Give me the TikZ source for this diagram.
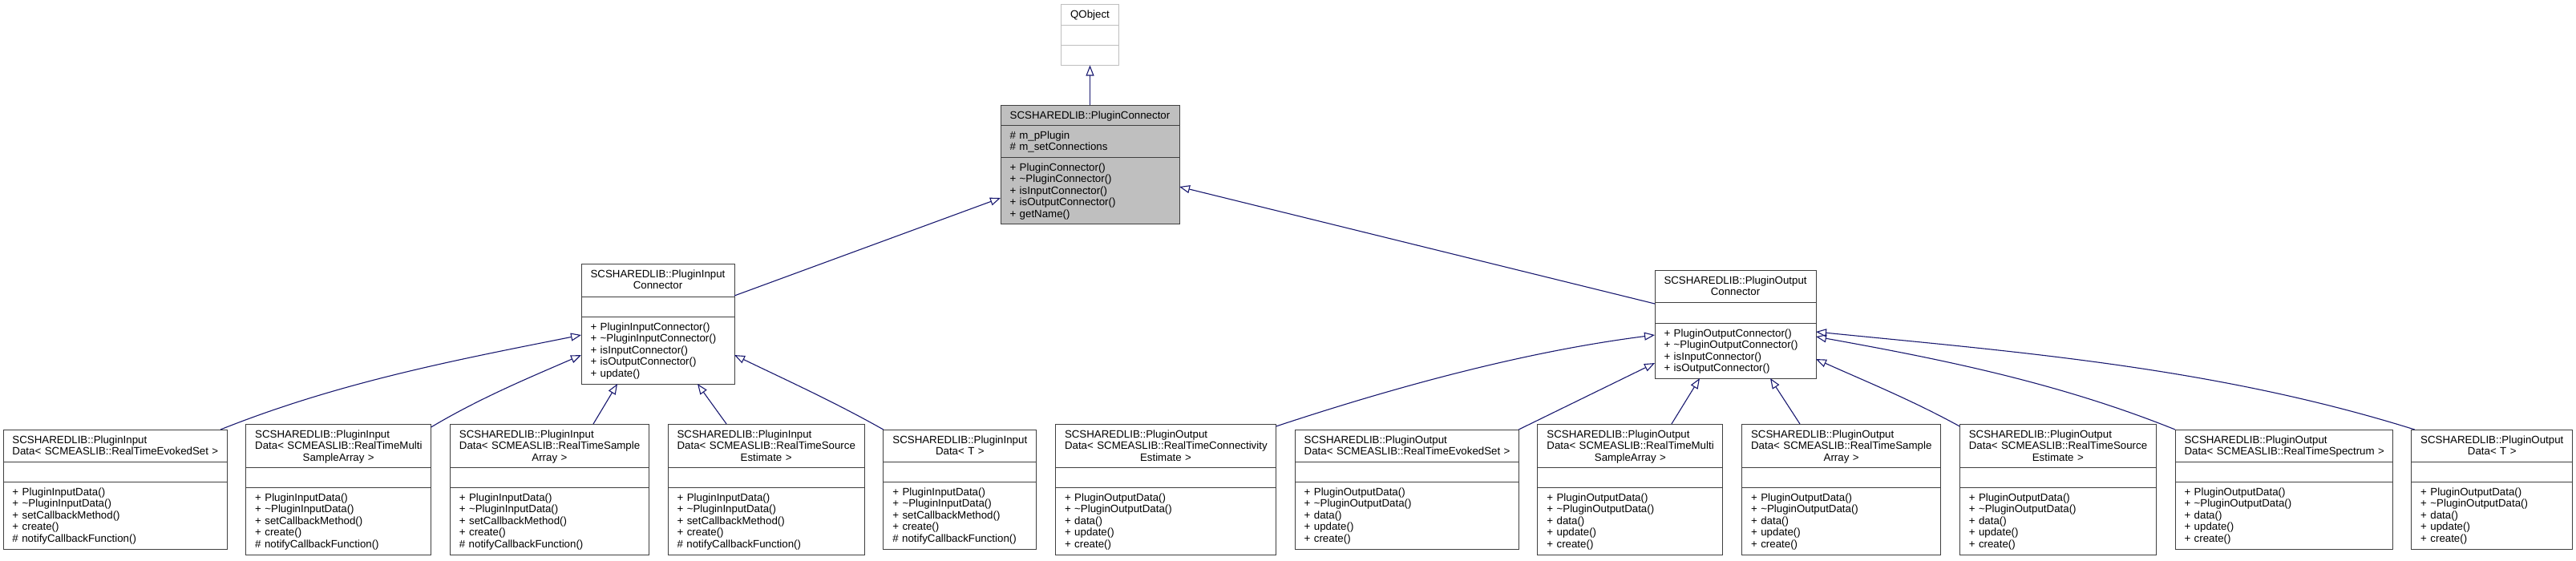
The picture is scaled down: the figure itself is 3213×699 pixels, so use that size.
\documentclass[tikz,border=0pt]{standalone}
\usepackage{fontspec}
\setmainfont{Liberation Sans}
\usetikzlibrary{arrows.meta,calc,fit}
\definecolor{edgeblue}{HTML}{191970}
\definecolor{boxgray}{HTML}{BFBFBF}
\definecolor{framecol}{HTML}{404040}
\newcommand\boxfont{\fontsize{13.3}{14.6}\selectfont\hyphenpenalty=10000 \exhyphenpenalty=10000\relax}
\tikzset{
  classframe/.style={draw=framecol, line width=1pt, inner sep=0pt, outer sep=0pt},
  divider/.style={draw=framecol, line width=1pt},
  qframe/.style={draw=boxgray},
  txt/.style={inner sep=0pt, outer sep=0pt, anchor=north west, font=\boxfont, text=black},
  inh/.style={draw=edgeblue, line width=1.1pt, -{Triangle[open, length=13pt, width=10pt, line width=1.1pt]}},
}
% #1 name, #2 left, #3 right, #4 top, #5 divider1, #6 divider2, #7 bottom, #8 extra style
\newcommand\classbox[8]{%
  \coordinate (#1-nw) at (#2,#4);
  \coordinate (#1-se) at (#3,#7);
  \node[classframe,#8,fit=(#1-nw)(#1-se)] (#1) {};
  \draw[divider,#8] (#2,#5) -- (#3,#5) (#2,#6) -- (#3,#6);
}
% #1 name, #2 left, #3 right, #4 row top, #5 align, #6 content
\newcommand\comp[6]{%
  \pgfmathsetmacro\cw{#3-#2-23}%
  \node[txt, text width=\cw pt, align=#5] (#1) at ({#2+11.5},{#4+6.8}) {\strut #6};
}
\newcommand\ctrline[1]{\makebox[\linewidth][c]{#1}}
\newcommand\inmeth{+ PluginInputData()\\+ \textasciitilde PluginInputData()\\+ setCallbackMethod()\\+ create()\\\#~notifyCallbackFunction()}
\newcommand\outmeth{+ PluginOutputData()\\+ \textasciitilde PluginOutputData()\\+ data()\\+ update()\\+ create()}
\begin{document}
\begin{tikzpicture}[x=1pt,y=-1pt]
\useasboundingbox (0,0) rectangle (3213,699);
\path[fill=white] (0,0) rectangle (3213,699);

% QObject
\classbox{QO}{1323.6}{1395.4}{5.5}{31.5}{56.5}{81.5}{qframe}
\comp{QO-t}{1323.6}{1395.4}{5.5}{center}{QObject}

% PluginConnector
\classbox{PC}{1248}{1471}{131}{156}{196}{279}{fill=boxgray}
\comp{PC-t}{1248}{1471}{131}{center}{SCSHAREDLIB::PluginConnector}
\comp{PC-a}{1248}{1471}{156}{left}{\#~m\_pPlugin\\\#~m\_setConnections}
\comp{PC-m}{1248}{1471}{196}{left}{+ PluginConnector()\\+ \textasciitilde PluginConnector()\\+ isInputConnector()\\+ isOutputConnector()\\+ getName()}

% PluginInputConnector
\classbox{PIC}{725}{916}{329}{370}{395}{479}{}
\comp{PIC-t}{725}{916}{329}{center}{SCSHAREDLIB::PluginInput\\Connector}
\comp{PIC-m}{725}{916}{395}{left}{+ PluginInputConnector()\\+ \textasciitilde PluginInputConnector()\\+ isInputConnector()\\+ isOutputConnector()\\+ update()}

% PluginOutputConnector
\classbox{POC}{2064}{2265}{337}{377}{403}{472}{}
\comp{POC-t}{2064}{2265}{337}{center}{SCSHAREDLIB::PluginOutput\\Connector}
\comp{POC-m}{2064}{2265}{403}{left}{+ PluginOutputConnector()\\+ \textasciitilde PluginOutputConnector()\\+ isInputConnector()\\+ isOutputConnector()}

% Input data classes
\classbox{B1}{4}{283}{536}{576}{601}{685}{}
\comp{B1-t}{4}{283}{536}{left}{SCSHAREDLIB::PluginInput\\Data<~SCMEASLIB::RealTimeEvokedSet~>}
\comp{B1-m}{4}{283}{601}{left}{\inmeth}

\classbox{B2}{306.7}{537.7}{529}{583}{608}{692}{}
\comp{B2-t}{306.7}{537.7}{529}{left}{SCSHAREDLIB::PluginInput\\Data<~SCMEASLIB::RealTimeMulti\\\ctrline{SampleArray~>}}
\comp{B2-m}{306.7}{537.7}{608}{left}{\inmeth}

\classbox{B3}{561.4}{809.4}{529}{583}{608}{692}{}
\comp{B3-t}{561.4}{809.4}{529}{left}{SCSHAREDLIB::PluginInput\\Data<~SCMEASLIB::RealTimeSample\\\ctrline{Array~>}}
\comp{B3-m}{561.4}{809.4}{608}{left}{\inmeth}

\classbox{B4}{833.1}{1078.1}{529}{583}{608}{692}{}
\comp{B4-t}{833.1}{1078.1}{529}{left}{SCSHAREDLIB::PluginInput\\Data<~SCMEASLIB::RealTimeSource\\\ctrline{Estimate~>}}
\comp{B4-m}{833.1}{1078.1}{608}{left}{\inmeth}

\classbox{B5}{1101.8}{1292.8}{536}{576}{601}{685}{}
\comp{B5-t}{1101.8}{1292.8}{536}{center}{SCSHAREDLIB::PluginInput\\Data<~T~>}
\comp{B5-m}{1101.8}{1292.8}{601}{left}{\inmeth}

% Output data classes
\classbox{O1}{1316.5}{1591.5}{529}{583}{608}{692}{}
\comp{O1-t}{1316.5}{1591.5}{529}{left}{SCSHAREDLIB::PluginOutput\\Data<~SCMEASLIB::RealTimeConnectivity\\\ctrline{Estimate~>}}
\comp{O1-m}{1316.5}{1591.5}{608}{left}{\outmeth}

\classbox{O2}{1615.2}{1894.2}{536}{576}{601}{685}{}
\comp{O2-t}{1615.2}{1894.2}{536}{left}{SCSHAREDLIB::PluginOutput\\Data<~SCMEASLIB::RealTimeEvokedSet~>}
\comp{O2-m}{1615.2}{1894.2}{601}{left}{\outmeth}

\classbox{O3}{1917.9}{2148.9}{529}{583}{608}{692}{}
\comp{O3-t}{1917.9}{2148.9}{529}{left}{SCSHAREDLIB::PluginOutput\\Data<~SCMEASLIB::RealTimeMulti\\\ctrline{SampleArray~>}}
\comp{O3-m}{1917.9}{2148.9}{608}{left}{\outmeth}

\classbox{O4}{2172.6}{2420.6}{529}{583}{608}{692}{}
\comp{O4-t}{2172.6}{2420.6}{529}{left}{SCSHAREDLIB::PluginOutput\\Data<~SCMEASLIB::RealTimeSample\\\ctrline{Array~>}}
\comp{O4-m}{2172.6}{2420.6}{608}{left}{\outmeth}

\classbox{O5}{2444.3}{2689.3}{529}{583}{608}{692}{}
\comp{O5-t}{2444.3}{2689.3}{529}{left}{SCSHAREDLIB::PluginOutput\\Data<~SCMEASLIB::RealTimeSource\\\ctrline{Estimate~>}}
\comp{O5-m}{2444.3}{2689.3}{608}{left}{\outmeth}

\classbox{O6}{2713}{2984}{536}{576}{601}{685}{}
\comp{O6-t}{2713}{2984}{536}{left}{SCSHAREDLIB::PluginOutput\\Data<~SCMEASLIB::RealTimeSpectrum~>}
\comp{O6-m}{2713}{2984}{601}{left}{\outmeth}

\classbox{O7}{3007.7}{3208.7}{536}{576}{601}{685}{}
\comp{O7-t}{3007.7}{3208.7}{536}{center}{SCSHAREDLIB::PluginOutput\\Data<~T~>}
\comp{O7-m}{3007.7}{3208.7}{601}{left}{\outmeth}

% Inheritance connectors
\draw[inh] (PC.north) -- (QO.south);
\draw[inh] ($(PIC.north east)+(0,40)$) -- ($(PC.north west)+(0,116)$);
\draw[inh] ($(POC.north west)+(0,42)$) -- ($(PC.north east)+(0,102)$);

\draw[inh] ($(B1.north east)+(-8,0)$) .. controls +(150,-60) and +(-150,30) .. ($(PIC.north west)+(0,89)$);
\draw[inh] ($(B2.north east)+(0,4)$) .. controls +(62,-37) and +(-62,27) .. ($(PIC.north west)+(0,114)$);
\draw[inh] ($(B3.north west)+(178.6,0)$) -- ($(PIC.south west)+(45,0)$);
\draw[inh] ($(B4.north west)+(73,0)$) -- ($(PIC.south west)+(145,0)$);
\draw[inh] (B5.north west) .. controls +(-62,-35) and +(62,30) .. ($(PIC.north east)+(0,114)$);

\draw[inh] ($(O1.north east)+(0,3)$) .. controls +(157,-52) and +(-157,20) .. ($(POC.north west)+(0,81)$);
\draw[inh] (O2.north east) -- ($(POC.north west)+(0,116)$);
\draw[inh] ($(O3.north west)+(167,0)$) -- ($(POC.south west)+(56,0)$);
\draw[inh] ($(O4.north west)+(72.4,0)$) -- ($(POC.south west)+(144,0)$);
\draw[inh] ($(O5.north west)+(0,3)$) .. controls +(-60,-33) and +(60,27) .. ($(POC.north east)+(0,111)$);
\draw[inh] (O6.north west) .. controls +(-149,-60) and +(149,27) .. ($(POC.north east)+(0,83)$);
\draw[inh] ($(O7.north west)+(4,0)$) .. controls +(-249,-78) and +(249,25) .. ($(POC.north east)+(0,77)$);
\end{tikzpicture}
\end{document}
